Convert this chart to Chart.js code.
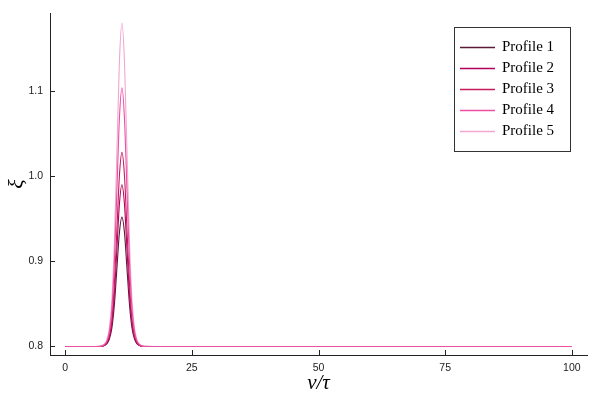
<!DOCTYPE html>
<html>
<head>
<meta charset="utf-8">
<script src="https://cdn.jsdelivr.net/npm/chart.js@4"></script>
<style>
  html, body { margin: 0; padding: 0; background: #fff; }
  #wrap { width: 600px; height: 400px; }
</style>
</head>
<body>
<div id="wrap"><canvas id="myChart" width="600" height="400"></canvas></div>
<script>
(function () {
  'use strict'

  // data
  var xs = [0, 5, 6.7, 7.2, 7.7, 8.2, 8.7, 9.2, 9.7, 10.2, 10.7, 11.2, 11.7, 12.2, 12.7, 13.2, 13.7, 14.2, 14.7, 15.2, 15.7, 20, 50, 100]
  var profile1 = [0.8, 0.8, 0.8001, 0.8003, 0.8011, 0.8030, 0.8084, 0.8213, 0.8486, 0.8912, 0.9338, 0.952, 0.9338, 0.8912, 0.8486, 0.8213, 0.8084, 0.8030, 0.8011, 0.8003, 0.8001, 0.8, 0.8, 0.8]
  var profile2 = [0.8, 0.8, 0.8001, 0.8004, 0.8013, 0.8038, 0.8105, 0.8266, 0.8608, 0.9140, 0.9672, 0.990, 0.9672, 0.9140, 0.8608, 0.8266, 0.8105, 0.8038, 0.8013, 0.8004, 0.8001, 0.8, 0.8, 0.8]
  var profile3 = [0.8, 0.8, 0.8001, 0.8005, 0.8016, 0.8046, 0.8125, 0.8319, 0.8730, 0.9368, 1.0006, 1.028, 1.0006, 0.9368, 0.8730, 0.8319, 0.8125, 0.8046, 0.8016, 0.8005, 0.8001, 0.8, 0.8, 0.8]
  var profile4 = [0.8, 0.8, 0.8002, 0.8006, 0.8021, 0.8061, 0.8167, 0.8426, 0.8973, 0.9824, 1.0675, 1.104, 1.0675, 0.9824, 0.8973, 0.8426, 0.8167, 0.8061, 0.8021, 0.8006, 0.8002, 0.8, 0.8, 0.8]
  var profile5 = [0.8, 0.8, 0.8002, 0.8008, 0.8027, 0.8076, 0.8209, 0.8532, 0.9216, 1.0280, 1.1344, 1.180, 1.1344, 1.0280, 0.9216, 0.8532, 0.8209, 0.8076, 0.8027, 0.8008, 0.8002, 0.8, 0.8, 0.8]
  var labels = ['Profile 1', 'Profile 2', 'Profile 3', 'Profile 4', 'Profile 5']
  var colors = ['#5c1a3a', '#b3005c', '#c51b5e', '#ec4fa3', '#f3a6cf']
  var drawOrder = [4, 3, 2, 0, 1] // lower = drawn on top
  var xTicks = [0, 25, 50, 75, 100]
  var yTicks = [0.8, 0.9, 1.0, 1.1]

  var series = [profile1, profile2, profile3, profile4, profile5]
  var datasets = series.map(function (ys, i) {
    return {
      label: labels[i],
      data: xs.map(function (x, j) { return { x: x, y: ys[j] } }),
      borderColor: colors[i],
      backgroundColor: colors[i],
      borderWidth: 1.1,
      pointRadius: 0,
      fill: false,
      order: drawOrder[i],
      cubicInterpolationMode: 'monotone'
    }
  })

  // inward ticks + legend box, Plots.jl style
  var extras = {
    id: 'extras',
    afterDraw: function (chart) {
      var c = chart.ctx
      var a = chart.chartArea
      var sx = chart.scales.x, sy = chart.scales.y
      c.save()
      c.strokeStyle = '#222'
      c.lineWidth = 1
      c.beginPath()
      xTicks.forEach(function (t) {
        var px = Math.round(sx.getPixelForValue(t)) + 0.5
        c.moveTo(px, a.bottom); c.lineTo(px, a.bottom - 5)
      })
      yTicks.forEach(function (t) {
        var py = Math.floor(sy.getPixelForValue(t)) + 0.5
        c.moveTo(a.left, py); c.lineTo(a.left + 5, py)
      })
      c.stroke()

      // legend
      var bx = 454.5, by = 27.5, bw = 116, bh = 124
      c.fillStyle = '#fff'
      c.fillRect(bx, by, bw, bh)
      c.strokeStyle = '#333'
      c.strokeRect(bx, by, bw, bh)
      c.font = '15px "Liberation Serif", "DejaVu Serif", serif'
      c.textBaseline = 'middle'
      chart.data.datasets.forEach(function (ds, i) {
        var y = 47 + i * 21
        c.strokeStyle = ds.borderColor
        c.lineWidth = 1.3
        c.beginPath()
        c.moveTo(460, y + 0.5); c.lineTo(495, y + 0.5)
        c.stroke()
        c.fillStyle = '#000'
        c.fillText(ds.label, 502, y)
      })
      c.restore()
    }
  }

  var ctx = document.getElementById('myChart')
  var lineChart = new Chart(ctx, {
    type: 'line',
    data: { datasets: datasets },
    options: {
      responsive: false,
      animation: false,
      layout: { padding: { left: 0, right: 13, top: 12, bottom: 0 } },
      scales: {
        x: {
          type: 'linear',
          min: -3,
          max: 103,
          afterBuildTicks: function (s) { s.ticks = xTicks.map(function (v) { return { value: v } }) },
          afterFit: function (s) { s.height = 45 },
          grid: { display: false, drawTicks: false },
          border: { display: true, color: '#222', width: 1 },
          ticks: { color: '#222', font: { family: '"Liberation Sans", sans-serif', size: 10.5 }, padding: 7, maxRotation: 0 },
          title: { display: true, text: 'v/τ', color: '#000', font: { family: '"Liberation Serif", serif', size: 21, style: 'italic' }, padding: { top: 2 } }
        },
        y: {
          type: 'linear',
          min: 0.79006,
          max: 1.1914,
          afterBuildTicks: function (s) { s.ticks = yTicks.map(function (v) { return { value: v } }) },
          afterFit: function (s) { s.width = 50 },
          grid: { display: false, drawTicks: false },
          border: { display: true, color: '#222', width: 1 },
          ticks: {
            color: '#222',
            font: { family: '"Liberation Sans", sans-serif', size: 10.5 },
            padding: 7,
            callback: function (v) { return v.toFixed(1) }
          },
          title: { display: true, text: 'ξ', color: '#000', font: { family: '"Liberation Serif", serif', size: 22, style: 'italic' }, padding: { bottom: 0 } }
        }
      },
      plugins: {
        legend: { display: false },
        tooltip: { enabled: false }
      }
    },
    plugins: [extras]
  })
})()
</script>
</body>
</html>
